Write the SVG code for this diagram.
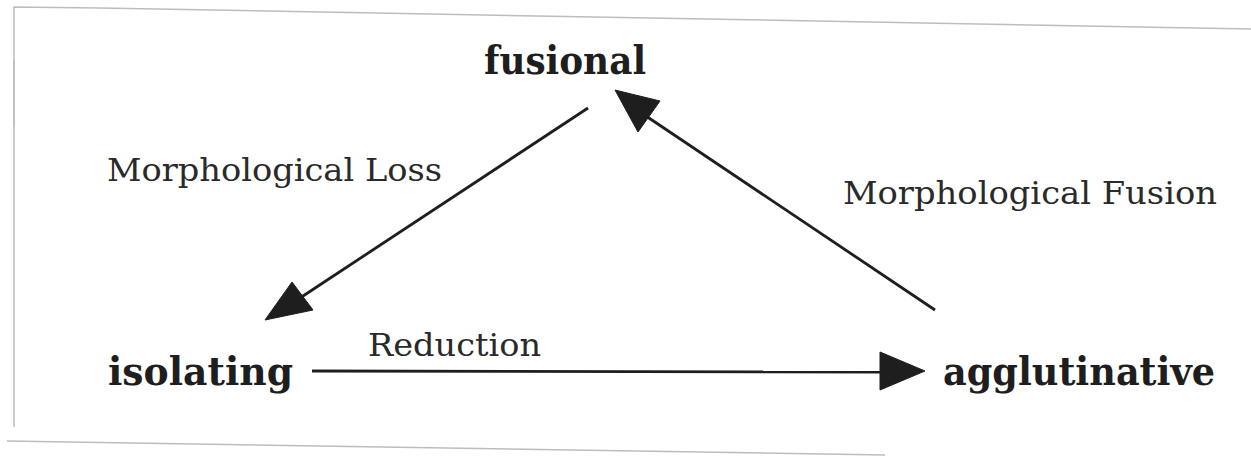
<svg xmlns="http://www.w3.org/2000/svg" width="1251" height="456" viewBox="0 0 1251 456">
<style>
.node{font-family:"DejaVu Serif","Liberation Serif",serif;font-weight:bold;font-size:40px;fill:#1e1e1e}
.lab{font-family:"DejaVu Serif","Liberation Serif",serif;font-size:31px;fill:#2a2a2a}
.edge{stroke:#1e1e1e;stroke-width:2.8;fill:none}
.head{fill:#1e1e1e;stroke:#1e1e1e;stroke-width:1;stroke-linejoin:round}
.frame{stroke:#bdbdbd;stroke-width:1.5;fill:none}
</style>
<rect width="1251" height="456" fill="#ffffff"/>
<g id="frame">
<polyline class="frame" points="14,127 14,7 100,8 1251,29"/>
<line class="frame" x1="14" y1="60" x2="14" y2="427"/>
<line class="frame" x1="7" y1="441" x2="885" y2="455"/>
</g>
<g id="fusional"><text class="node" x="484" y="74" textLength="162" lengthAdjust="spacingAndGlyphs">fusional</text></g>
<g id="isolating"><text class="node" x="108" y="385" textLength="185" lengthAdjust="spacingAndGlyphs">isolating</text></g>
<g id="agglutinative"><text class="node" x="943" y="385" textLength="272" lengthAdjust="spacingAndGlyphs">agglutinative</text></g>
<g id="connectors">
<g id="loss">
<line class="edge" x1="588" y1="108" x2="300" y2="298"/>
<polygon class="head" points="265,320 292,282 313,310"/>
<text class="lab" x="107" y="181" textLength="335" lengthAdjust="spacingAndGlyphs">Morphological Loss</text>
</g>
<g id="fusion">
<line class="edge" x1="935" y1="310" x2="640" y2="112"/>
<polygon class="head" points="615,90 660,101 638,132"/>
<text class="lab" x="843" y="204" textLength="374" lengthAdjust="spacingAndGlyphs">Morphological Fusion</text>
</g>
<g id="reduction">
<line class="edge" x1="312" y1="371" x2="884" y2="372"/>
<polygon class="head" points="925,371 880,352 880,390"/>
<text class="lab" x="368" y="356" textLength="173" lengthAdjust="spacingAndGlyphs">Reduction</text>
</g>
</g>
</svg>
